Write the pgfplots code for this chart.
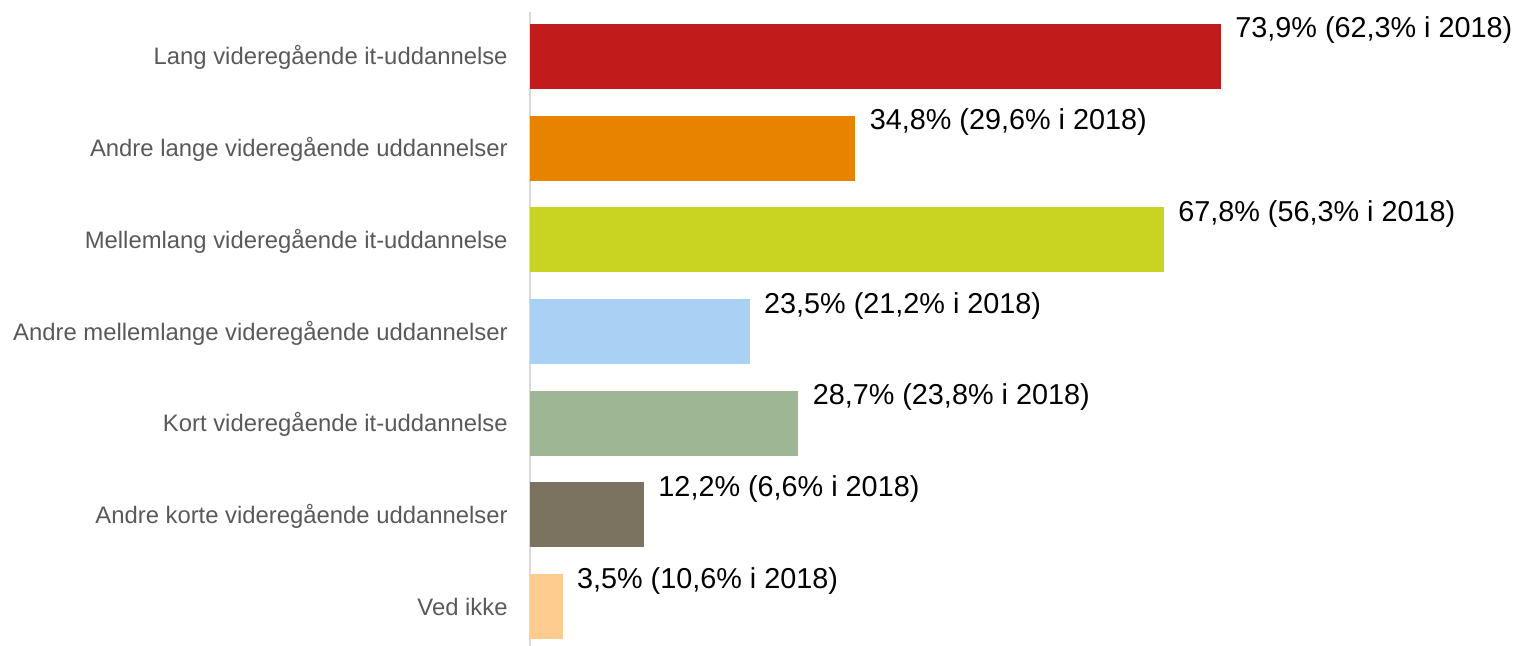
\documentclass[border=0pt]{standalone}
\usepackage{pgfplots}
\pgfplotsset{compat=1.18}
\usepackage{fontspec}
\setmainfont{Liberation Sans}
\definecolor{cRed}{RGB}{194,27,27}
\definecolor{cOrange}{RGB}{232,131,0}
\definecolor{cLime}{RGB}{201,211,34}
\definecolor{cBlue}{RGB}{169,209,243}
\definecolor{cSage}{RGB}{159,182,149}
\definecolor{cBrown}{RGB}{123,115,95}
\definecolor{cPeach}{RGB}{255,204,143}
\definecolor{labgray}{RGB}{89,89,89}
\definecolor{axgray}{RGB}{217,217,217}

\begin{document}
\begin{tikzpicture}
\useasboundingbox (0,0) rectangle (759pt,323pt);
\begin{axis}[
  at={(265pt,0pt)}, anchor=south west,
  scale only axis, width=374pt, height=317pt,
  xbar, bar shift=0pt, bar width=0.709,
  xmin=0, xmax=80, ymin=-0.485, ymax=6.43, y dir=reverse,
  axis x line=none, axis y line=left,
  y axis line style={-, draw=axgray, line width=0.8pt},
  xtick=\empty,
  ytick={0,1,2,3,4,5,6},
  yticklabels={Lang videregående it-uddannelse,
               Andre lange videregående uddannelser,
               Mellemlang videregående it-uddannelse,
               Andre mellemlange videregående uddannelser,
               Kort videregående it-uddannelse,
               Andre korte videregående uddannelser,
               Ved ikke},
  major tick length=0pt,
  yticklabel style={font=\fontsize{11.92}{14}\selectfont, text=labgray,
                    anchor=base east, inner sep=0pt, xshift=-11pt, yshift=-4.25pt},
  clip=false,
  nodes near coords style={anchor=base west, inner sep=0pt, xshift=7pt,
                           yshift=9.25pt, text=black,
                           font=\fontsize{14.4}{17}\selectfont},
]
\addplot[fill=cRed, draw=none, nodes near coords={73,9\% (62,3\% i 2018)}]
  coordinates {(73.9,0)};
\addplot[fill=cOrange, draw=none, nodes near coords={34,8\% (29,6\% i 2018)}]
  coordinates {(34.8,1)};
\addplot[fill=cLime, draw=none, nodes near coords={67,8\% (56,3\% i 2018)}]
  coordinates {(67.8,2)};
\addplot[fill=cBlue, draw=none, nodes near coords={23,5\% (21,2\% i 2018)}]
  coordinates {(23.5,3)};
\addplot[fill=cSage, draw=none, nodes near coords={28,7\% (23,8\% i 2018)}]
  coordinates {(28.7,4)};
\addplot[fill=cBrown, draw=none, nodes near coords={12,2\% (6,6\% i 2018)}]
  coordinates {(12.2,5)};
\addplot[fill=cPeach, draw=none, nodes near coords={3,5\% (10,6\% i 2018)}]
  coordinates {(3.5,6)};
\end{axis}
\end{tikzpicture}
\end{document}
